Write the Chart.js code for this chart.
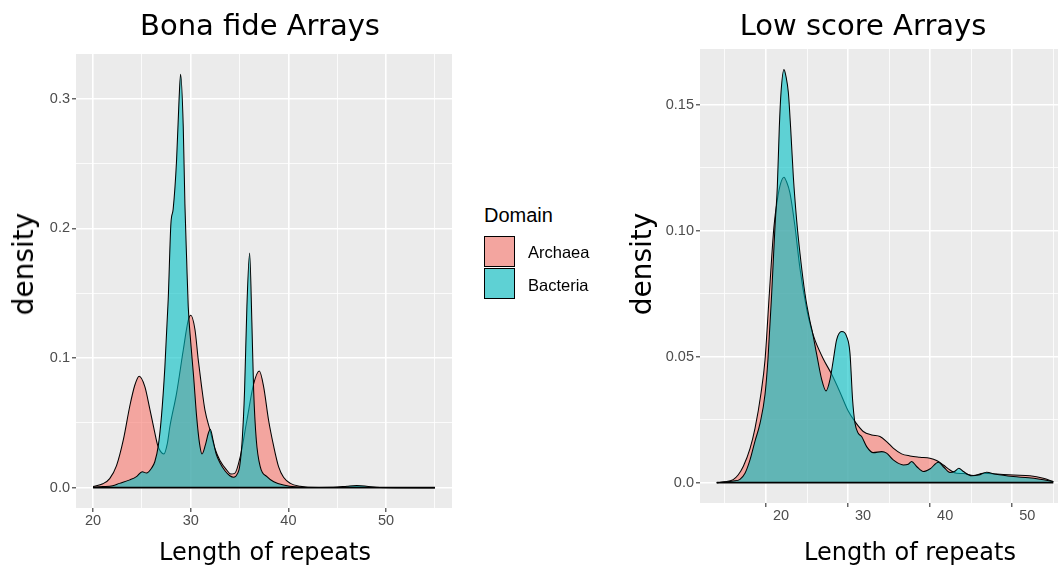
<!DOCTYPE html>
<html>
<head>
<meta charset="utf-8">
<script src="https://cdn.jsdelivr.net/npm/chart.js@4.4.1/dist/chart.umd.min.js"></script>
<style>
    body { margin: 0; background: #fff; }
    #wrap { position: relative; width: 1058px; height: 565px; overflow: hidden; font-family: "Liberation Sans", Arial, sans-serif; }
    canvas { position: absolute; top: 0; }
    .txt { position: absolute; line-height: 1; white-space: nowrap; color: #000; }
    .title { font-family: "DejaVu Sans", sans-serif; font-size: 29px; width: 400px; text-align: center; top: 11px; }
    .axis-title { font-family: "DejaVu Sans", sans-serif; font-size: 24px; width: 300px; text-align: center; top: 540px; }
    .ylab { font-family: "DejaVu Sans", sans-serif; font-size: 28px; top: 264px; transform: translate(-50%, -50%) rotate(-90deg); }
    .key { position: absolute; left: 484px; width: 31px; height: 31px; box-sizing: border-box; border: 1.5px solid #000; }
</style>
</head>
<body>
<div id="wrap">
    <canvas id="bonaChart" width="460" height="565" style="left:0;width:460px;height:565px"></canvas>
    <canvas id="lowChart" width="438" height="565" style="left:620px;width:438px;height:565px"></canvas>

    <div class="txt title" style="left:60px">Bona fide Arrays</div>
    <div class="txt title" style="left:663px">Low score Arrays</div>
    <div class="txt axis-title" style="left:115px">Length of repeats</div>
    <div class="txt axis-title" style="left:760px">Length of repeats</div>
    <div class="txt ylab" style="left:24px">density</div>
    <div class="txt ylab" style="left:642px">density</div>

    <div class="txt" style="left:484px;top:205px;font-size:20px">Domain</div>
    <div class="key" style="top:236px;background:rgb(243,165,159)"></div>
    <div class="key" style="top:268px;background:rgb(94,209,212)"></div>
    <div class="txt" style="left:528px;top:244px;font-size:16.5px">Archaea</div>
    <div class="txt" style="left:528px;top:277px;font-size:16.5px">Bacteria</div>
</div>

<script>
// Bona fide arrays: density curves
const bonaArchaeaX = [20, 21, 21.7, 22.4, 23.1, 23.76, 24.27, 24.72, 25.3, 25.8, 26.3, 26.6, 26.9, 27.25, 27.6, 27.86, 28.55, 29.23, 29.74, 30.0, 30.43, 30.77, 31.11, 31.45, 31.97, 32.48, 32.99, 33.68, 34.1, 34.5, 35.07, 35.75, 36.44, 37.02, 37.46, 37.97, 38.49, 39.0, 39.5, 40.2, 41.2, 42, 45, 47, 49, 55];
const bonaArchaeaY = [0.0008, 0.003, 0.007, 0.017, 0.037, 0.063, 0.079, 0.086, 0.078, 0.061, 0.043, 0.033, 0.028, 0.026, 0.034, 0.047, 0.073, 0.106, 0.129, 0.133, 0.122, 0.0985, 0.078, 0.06, 0.0445, 0.030, 0.021, 0.0136, 0.0105, 0.011, 0.024, 0.052, 0.08, 0.09, 0.078, 0.052, 0.032, 0.016, 0.008, 0.0033, 0.001, 0.0003, 0.0001, 0.0005, 0.0001, 0];
const bonaBacteriaX = [20, 21, 22, 22.7, 23.76, 24.44, 25.03, 25.47, 25.98, 26.32, 26.67, 27.0, 27.35, 27.69, 27.97, 28.2, 28.55, 28.8, 28.96, 29.23, 29.4, 29.58, 29.74, 30.0, 30.3, 30.6, 30.9, 31.15, 31.5, 31.8, 32.0, 32.3, 32.6, 33.0, 33.5, 34.0, 34.4, 34.8, 35.0, 35.27, 35.51, 35.75, 36.03, 36.26, 36.44, 36.71, 37.12, 37.8, 38.5, 39.5, 40.9, 43, 45, 46, 47, 48, 49, 51, 55];
const bonaBacteriaY = [0.0003, 0.0008, 0.0015, 0.0033, 0.006, 0.0085, 0.0123, 0.0113, 0.015, 0.02, 0.032, 0.055, 0.093, 0.145, 0.204, 0.215, 0.253, 0.299, 0.319, 0.279, 0.219, 0.176, 0.14, 0.112, 0.085, 0.055, 0.034, 0.026, 0.033, 0.042, 0.045, 0.036, 0.026, 0.019, 0.013, 0.0092, 0.008, 0.011, 0.016, 0.037, 0.075, 0.14, 0.181, 0.127, 0.075, 0.037, 0.016, 0.0085, 0.0046, 0.002, 0.0005, 0.0001, 0.0004, 0.0011, 0.0016, 0.0011, 0.0003, 0, 0];

// Low score arrays
const lowArchaeaX = [14, 15, 16, 16.6, 17.24, 18.05, 18.66, 19.39, 19.88, 20.41, 20.97, 21.38, 21.8, 22.19, 22.5, 22.92, 23.53, 24.14, 24.95, 25.56, 26.0, 27.0, 28.0, 29.0, 30.0, 30.84, 31.85, 32.87, 33.88, 34.69, 35.5, 36.52, 37.54, 38.75, 39.97, 40.78, 41.6, 42.41, 43.22, 44.03, 45.25, 46.47, 48.1, 50.12, 52.15, 53.78, 55];
const lowArchaeaY = [0, 0.0003, 0.0012, 0.003, 0.0065, 0.0135, 0.0215, 0.0355, 0.0487, 0.0752, 0.1017, 0.1123, 0.119, 0.1213, 0.1195, 0.115, 0.1017, 0.085, 0.069, 0.0606, 0.0563, 0.049, 0.043, 0.036, 0.0285, 0.0242, 0.0203, 0.0189, 0.0183, 0.0163, 0.0137, 0.0114, 0.0106, 0.0101, 0.0097, 0.0088, 0.007, 0.005, 0.0037, 0.0036, 0.0028, 0.0037, 0.0034, 0.003, 0.0027, 0.0017, 0.0004];
const lowBacteriaX = [14, 15, 16, 16.83, 17.44, 18.05, 18.66, 19.27, 19.88, 20.24, 20.69, 21.1, 21.38, 21.62, 21.83, 22.19, 22.45, 22.72, 23.0, 23.33, 23.74, 24.14, 24.75, 25.36, 25.6, 26.17, 26.78, 27.31, 27.8, 28.2, 28.6, 29.22, 29.83, 30.23, 30.55, 30.84, 31.24, 31.65, 32.26, 33.07, 34.09, 34.69, 35.5, 36.72, 37.33, 37.74, 38.35, 39.16, 40.0, 40.99, 41.7, 42.41, 43.0, 43.5, 44.0, 45.05, 45.9, 46.87, 48.0, 50.12, 52.0, 53.37, 55];
const lowBacteriaY = [0, 0.0002, 0.0006, 0.0013, 0.0037, 0.009, 0.0165, 0.0235, 0.035, 0.049, 0.075, 0.102, 0.1175, 0.141, 0.155, 0.164, 0.161, 0.155, 0.141, 0.1215, 0.104, 0.091, 0.075, 0.064, 0.0606, 0.051, 0.041, 0.0364, 0.041, 0.0487, 0.0567, 0.06, 0.058, 0.0514, 0.0328, 0.0236, 0.0196, 0.0183, 0.0143, 0.0119, 0.0123, 0.0117, 0.009, 0.007, 0.0073, 0.0084, 0.0064, 0.0044, 0.0055, 0.0081, 0.006, 0.004, 0.0045, 0.0057, 0.0045, 0.0027, 0.003, 0.0041, 0.0033, 0.0024, 0.0019, 0.0013, 0.0004];

// Ticks and gridlines
const bonaXMajor = [20, 30, 40, 50];
const bonaXMinor = [25, 35, 45, 55];
const bonaXLabels = ['20', '30', '40', '50'];
const bonaYMajor = [0, 0.1, 0.2, 0.3];
const bonaYMinor = [0.05, 0.15, 0.25];
const bonaYLabels = ['0.0', '0.1', '0.2', '0.3'];

const lowXMajor = [20, 30, 40, 50];
const lowXMinor = [15, 25, 35, 45, 55];
const lowXLabels = ['20', '30', '40', '50'];
const lowYMajor = [0, 0.05, 0.10, 0.15];
const lowYMinor = [0.025, 0.075, 0.125];
const lowYLabels = ['0.0', '0.05', '0.10', '0.15'];

const ARCHAEA_FILL = 'rgba(248, 118, 109, 0.6)';
const BACTERIA_FILL = 'rgba(0, 191, 196, 0.6)';

// grey ggplot panel behind the grid
const panelBg = {
    id: 'panelBg',
    beforeDraw(chart) {
        const { ctx, chartArea: a } = chart;
        ctx.save();
        ctx.fillStyle = '#EBEBEB';
        ctx.fillRect(a.left, a.top, a.right - a.left, a.bottom - a.top);
        ctx.restore();
    }
};

function toPoints(xs, ys) {
    return xs.map((x, i) => ({ x: x, y: ys[i] }));
}

function isMajor(v, majors) {
    return majors.some(m => Math.abs(m - v) < 1e-9);
}

function axisConfig(major, minor, labels, extra) {
    const all = major.concat(minor).sort((a, b) => a - b);
    return Object.assign({
        type: 'linear',
        afterBuildTicks: s => { s.ticks = all.map(v => ({ value: v })); },
        border: { display: false },
        grid: {
            color: '#FFFFFF',
            lineWidth: c => (c.tick && isMajor(c.tick.value, major)) ? 1.6 : 0.8,
            tickColor: c => (c.tick && isMajor(c.tick.value, major)) ? '#333333' : 'rgba(0,0,0,0)',
            tickLength: 4,
            tickWidth: 1.1
        },
        ticks: {
            autoSkip: false,
            maxRotation: 0,
            padding: 2,
            color: '#4D4D4D',
            font: { family: 'Liberation Sans', size: 14.5 },
            callback: v => {
                const i = major.findIndex(m => Math.abs(m - v) < 1e-9);
                return i >= 0 ? labels[i] : '';
            }
        }
    }, extra);
}

function densityChart(canvasId, p) {
    const xs = p.archaeaX.concat(p.bacteriaX);
    const baseline = [{ x: Math.min(...xs), y: 0 }, { x: Math.max(...xs), y: 0 }];

    const xAxis = axisConfig(p.xMajor, p.xMinor, p.xLabels, {
        min: p.xRange[0], max: p.xRange[1],
        afterFit: s => { s.height = p.xAxisHeight; }
    });
    xAxis.ticks.labelOffset = p.xLabelOffset;
    xAxis.ticks.padding = 0;

    const yAxis = axisConfig(p.yMajor, p.yMinor, p.yLabels, {
        min: p.yRange[0], max: p.yRange[1],
        afterFit: s => { s.width = p.yAxisWidth; }
    });

    return new Chart(document.getElementById(canvasId), {
        type: 'line',
        data: {
            datasets: [
                { label: 'Bacteria', data: toPoints(p.bacteriaX, p.bacteriaY), backgroundColor: BACTERIA_FILL, borderColor: '#000', borderWidth: 1.05, fill: 'origin', order: 1 },
                { label: 'Archaea', data: toPoints(p.archaeaX, p.archaeaY), backgroundColor: ARCHAEA_FILL, borderColor: '#000', borderWidth: 1.05, fill: 'origin', order: 2 },
                { label: 'base', data: baseline, borderColor: '#000', borderWidth: 1.6, fill: false, order: 0 }
            ]
        },
        options: {
            responsive: false,
            animation: false,
            events: [],
            layout: { padding: p.padding },
            elements: {
                point: { radius: 0 },
                line: { cubicInterpolationMode: 'monotone' }
            },
            plugins: { legend: { display: false }, tooltip: { enabled: false } },
            scales: { x: xAxis, y: yAxis }
        },
        plugins: [panelBg]
    });
}

densityChart('bonaChart', {
    archaeaX: bonaArchaeaX, archaeaY: bonaArchaeaY,
    bacteriaX: bonaBacteriaX, bacteriaY: bonaBacteriaY,
    xMajor: bonaXMajor, xMinor: bonaXMinor, xLabels: bonaXLabels,
    yMajor: bonaYMajor, yMinor: bonaYMinor, yLabels: bonaYLabels,
    xRange: [18.25, 56.75], yRange: [-0.0157, 0.3346],
    xAxisHeight: 57, yAxisWidth: 76, xLabelOffset: 0,
    padding: { left: 0, top: 54, right: 8, bottom: 0 }
});

densityChart('lowChart', {
    archaeaX: lowArchaeaX, archaeaY: lowArchaeaY,
    bacteriaX: lowBacteriaX, bacteriaY: lowBacteriaY,
    xMajor: lowXMajor, xMinor: lowXMinor, xLabels: lowXLabels,
    yMajor: lowYMajor, yMinor: lowYMinor, yLabels: lowYLabels,
    xRange: [11.96, 55.57], yRange: [-0.0081, 0.1722],
    xAxisHeight: 62, yAxisWidth: 80, xLabelOffset: 15,
    padding: { left: 0, top: 49, right: 0, bottom: 0 }
});
</script>
</body>
</html>
